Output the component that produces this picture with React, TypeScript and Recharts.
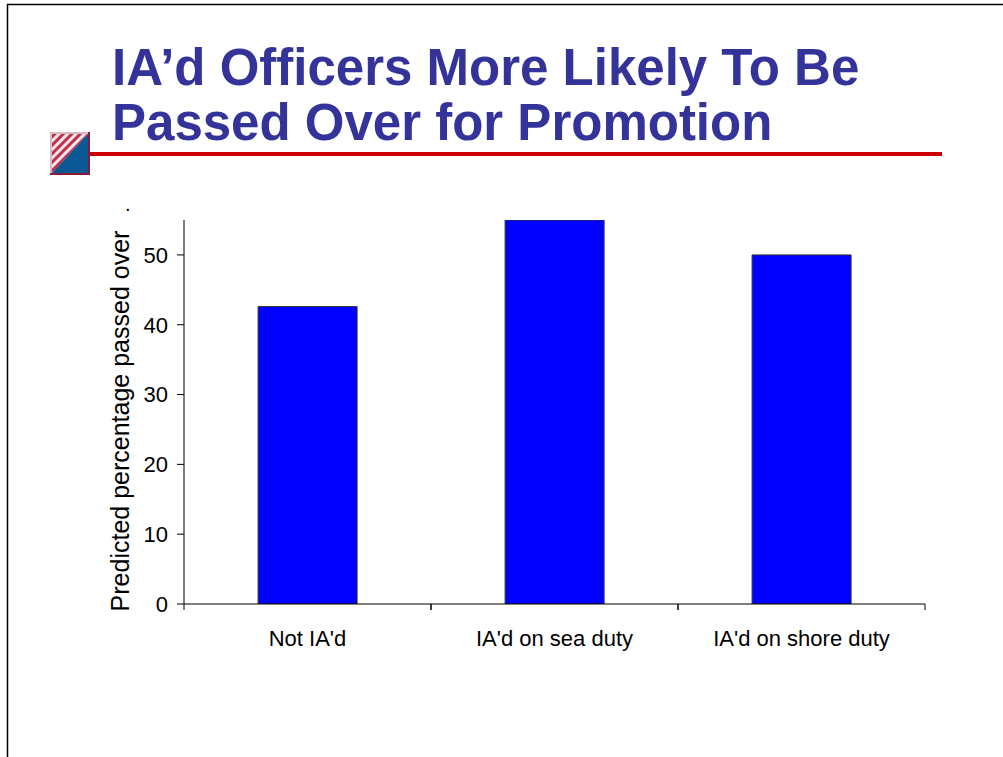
import { Bar, BarChart, XAxis, YAxis } from "recharts";

const categories = ["Not IA'd", "IA'd on sea duty", "IA'd on shore duty"];
const passedOver = [42.6, 55, 50];
const yTicks = [0, 10, 20, 30, 40, 50];

const chartData = categories.map((name, i) => ({ name, value: passedOver[i] }));

const titleLines = ["IA\u2019d Officers More Likely To Be", "Passed Over for Promotion"];
const yLabel = "Predicted percentage passed over";

const FONT = "'Liberation Sans', Arial, sans-serif";

function CategoryTick(props: any) {
  const { x, y, payload } = props;
  const half = payload && payload.offset ? payload.offset : 123.5;
  const axisY = y - 8;
  return (
    <g>
      <line x1={x - half} x2={x - half} y1={axisY} y2={axisY + 6} stroke="#000" />
      <line x1={x + half} x2={x + half} y1={axisY} y2={axisY + 6} stroke="#000" />
      <text
        x={x}
        y={axisY + 42}
        textAnchor="middle"
        fontSize={22}
        fontFamily={FONT}
        fill="#000"
      >
        {payload.value}
      </text>
    </g>
  );
}

export default function App() {
  return (
    <div
      style={{
        position: "absolute",
        left: 0,
        top: 0,
        width: 1003,
        height: 757,
        background: "#fff",
        overflow: "hidden",
      }}
    >
      <svg
        width={1003}
        height={757}
        style={{ position: "absolute", left: 0, top: 0 }}
      >
        <defs>
          <pattern
            id="hatch"
            patternUnits="userSpaceOnUse"
            width="6"
            height="6"
            patternTransform="rotate(45)"
          >
            <rect width="6" height="6" fill="#f4e6ea" />
            <rect width="3" height="6" fill="#c0304a" />
          </pattern>
        </defs>
        {/* slide border */}
        <line x1={7} y1={4.5} x2={1003} y2={4.5} stroke="#000" strokeWidth={1.5} />
        <line x1={7.5} y1={4} x2={7.5} y2={757} stroke="#000" strokeWidth={1.5} />
        {/* title */}
        {titleLines.map((t, i) => (
          <text
            key={t}
            x={112}
            y={85 + i * 55}
            fontSize={51}
            fontWeight="bold"
            fontFamily={FONT}
            fill="#333399"
          >
            {t}
          </text>
        ))}
        {/* red rule */}
        <rect x={89} y={152} width={853} height={4} fill="#cc0000" />
        {/* icon */}
        <rect x={50} y={132} width={40} height={43} fill="#d8b8c4" />
        <polygon points="52,134 88,134 52,173" fill="url(#hatch)" />
        <polygon points="88,134 88,173 52,173" fill="#0b5994" />
        <line x1={89} y1={132} x2={89} y2={175} stroke="#8a1a3a" strokeWidth={2} />
        <line x1={50} y1={174} x2={90} y2={174} stroke="#8a1a3a" strokeWidth={2} />
        {/* y label */}
        <text
          x={0}
          y={0}
          transform="translate(129 421) rotate(-90)"
          textAnchor="middle"
          fontSize={25}
          fontFamily={FONT}
          fill="#000"
        >
          {yLabel}
        </text>
        <text x={125} y={211} fontSize={20} fontFamily={FONT} fill="#000">
          .
        </text>
      </svg>
      <div style={{ position: "absolute", left: 0, top: 0 }}>
        <BarChart
          width={1003}
          height={757}
          data={chartData}
          margin={{ top: 220, right: 78, bottom: 123, left: 124 }}
          barCategoryGap="30%"
        >
          <XAxis
            dataKey="name"
            axisLine={{ stroke: "#000" }}
            tickLine={false}
            tick={<CategoryTick />}
            interval={0}
            height={30}
          />
          <YAxis
            domain={[0, 55]}
            ticks={yTicks}
            width={60}
            axisLine={{ stroke: "#000" }}
            tickLine={{ stroke: "#000" }}
            tickSize={7}
            tickMargin={9}
            tick={{ fill: "#000", fontSize: 22, fontFamily: FONT }}
            allowDataOverflow
          />
          <Bar
            dataKey="value"
            fill="#0000ff"
            stroke="#333333"
            strokeWidth={1}
            isAnimationActive={false}
          />
        </BarChart>
      </div>
    </div>
  );
}
